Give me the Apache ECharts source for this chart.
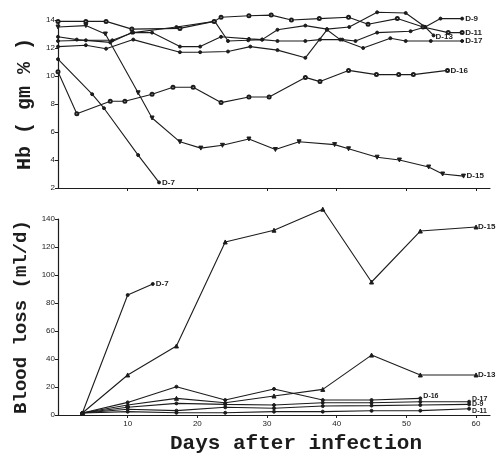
<!DOCTYPE html>
<html>
<head>
<meta charset="utf-8">
<script src="https://cdn.jsdelivr.net/npm/echarts@6/dist/echarts.min.js"></script>
<style>
html,body{margin:0;padding:0;background:#fff;}
#c{width:498px;height:457px;}
</style>
</head>
<body>
<div id="c"></div>
<script>
// ---- Haemoglobin (gm %) : [day, value]
const hbD9  = [[0,12.5],[4,12.55],[7.8,12.55],[10.8,13.1],[17,13.5],[22.5,13.9],[24.4,12.5],[27.3,12.55],[29.3,12.6],[31.5,12.5],[35.5,12.5],[37.6,12.6],[40.8,12.6],[42.7,12.5],[45.8,13.1],[50.6,13.2],[52.7,13.5],[54.9,14.1],[58,14.1]];
const hbD11 = [[0,13.9],[4,13.9],[6.9,13.9],[10.6,13.35],[17.5,13.4],[22.4,13.9],[23.4,14.2],[27.4,14.3],[30.6,14.35],[33.5,14.0],[37.5,14.1],[41.7,14.2],[44.5,13.7],[48.7,14.1],[52.4,13.5],[56,13.1],[58,13.1]];
const hbD13 = [[0,12.8],[2.7,12.6],[7.5,12.4],[10.6,13.1],[13.5,13.1],[17.5,12.1],[20.4,12.1],[23.4,12.8],[27.4,12.65],[29.3,12.6],[31.5,13.3],[35.5,13.6],[38.6,13.35],[41.8,13.5],[45.8,14.55],[49.9,14.5],[52.7,13.5],[53.9,12.9]];
const hbD17 = [[0,12.1],[4,12.2],[6.9,11.95],[10.8,12.6],[17.5,11.7],[20.4,11.7],[24.4,11.75],[27.6,12.1],[31.5,11.85],[35.5,11.3],[38.6,13.3],[40.5,12.6],[43.8,12.0],[47.7,12.7],[49.9,12.5],[53.5,12.5],[58,12.5]];
const hbD16 = [[0,10.3],[2.7,7.3],[7.5,8.2],[9.6,8.2],[13.5,8.7],[16.5,9.2],[19.4,9.2],[23.4,8.1],[27.4,8.5],[30.3,8.5],[35.5,9.9],[37.6,9.6],[41.7,10.4],[45.7,10.1],[48.9,10.1],[51,10.1],[55.9,10.4]];
const hbD15 = [[0,13.5],[4,13.6],[6.8,13.0],[11.5,8.8],[13.5,7.0],[17.5,5.3],[20.5,4.85],[23.6,5.05],[27.4,5.5],[31.2,4.75],[34.6,5.3],[39.7,5.1],[41.7,4.8],[45.8,4.2],[49,4.0],[53.2,3.5],[55.2,3.0],[58.2,2.85]];
const hbD7  = [[0,11.2],[4.9,8.7],[6.6,7.7],[11.5,4.35],[14.5,2.4]];

// ---- Blood loss (ml/d) : [day, value]
const blD7  = [[3.5,1.4],[10,85.7],[13.6,93.6]];
const blD15 = [[3.5,1.4],[10,28.6],[17,49.3],[24,123.6],[31,132],[38,147],[45,95],[52,131.4],[60,134.3]];
const blD13 = [[3.5,1.4],[10,7.1],[17,11.9],[24,8.8],[31,13.6],[38,18.3],[45,42.8],[52,28.6],[60,28.6]];
const blD16 = [[3.5,1.4],[10,9],[17,20.2],[24,10.7],[31,18.6],[38,10.7],[45,10.7],[52,11.9]];
const blD17 = [[3.5,1.4],[10,5.5],[17,8.3],[24,7.6],[31,7.1],[38,8.8],[45,8.8],[52,9.5],[59,9.5]];
const blD9  = [[3.5,1.4],[10,4.1],[17,3.1],[24,5.5],[31,4.8],[38,6.4],[45,6.7],[52,7.1],[59,7.6]];
const blD11 = [[3.5,1.4],[10,2.4],[17,1.6],[24,1.6],[31,2.4],[38,2.4],[45,3.0],[52,3.1],[59,4.5]];

const hbTicks = [2,4,6,8,10,12,14];
const blTicks = [0,20,40,60,80,100,120,140];
const dayTicks = [10,20,30,40,50,60];

const INK = '#1c1c1c';
const chart = echarts.init(document.getElementById('c'));

function mk(name, data, g, symbol, opts) {
  opts = opts || {};
  return {
    type: 'line', name: name, data: data,
    xAxisIndex: g, yAxisIndex: g,
    symbol: symbol, symbolSize: opts.size || 3, symbolRotate: opts.rot || 0,
    clip: false, animation: false,
    lineStyle: {color: INK, width: 1.1},
    itemStyle: {color: INK, borderColor: INK, borderWidth: 1},
    endLabel: {show: true, formatter: name, color: INK, fontSize: opts.fs || 8,
      fontFamily: 'Liberation Sans', fontWeight: 'bold', distance: opts.dist || 3,
      offset: opts.off || [0,0]}
  };
}

const axisLine = {show: true, lineStyle: {color: INK, width: 1.2}};
const tickLbl = {color: INK, fontSize: 8, fontFamily: 'Liberation Sans', margin: 3};

chart.setOption({
  backgroundColor: '#fff',
  animation: false,
  grid: [
    {left: 58, top: 20, width: 432, height: 168},
    {left: 58, top: 219, width: 432, height: 196}
  ],
  xAxis: [
    {gridIndex: 0, type: 'value', min: 0, max: 62, interval: 10,
     axisLine: axisLine, axisTick: {show: true, length: 3, lineStyle: {color: INK},
       customValues: dayTicks},
     axisLabel: {show: false}, splitLine: {show: false}},
    {gridIndex: 1, type: 'value', min: 0, max: 62, interval: 10,
     axisLine: axisLine, axisTick: {show: true, length: 3, lineStyle: {color: INK},
       customValues: dayTicks},
     axisLabel: Object.assign({}, tickLbl, {margin: 5, customValues: dayTicks}),
     splitLine: {show: false},
     name: 'Days after infection', nameLocation: 'middle', nameGap: 18,
     nameTextStyle: {fontFamily: 'Liberation Mono', fontWeight: 'bold', fontSize: 21,
       color: INK, padding: [0, 0, 0, 44]}}
  ],
  yAxis: [
    {gridIndex: 0, type: 'value', min: 2, max: 14, interval: 2,
     axisLine: axisLine, axisTick: {show: true, length: 3, lineStyle: {color: INK},
       customValues: hbTicks},
     axisLabel: Object.assign({}, tickLbl, {customValues: hbTicks}),
     splitLine: {show: false},
     name: 'Hb ( gm % )', nameLocation: 'middle', nameGap: 20, nameRotate: 90,
     nameTextStyle: {fontFamily: 'Liberation Mono', fontWeight: 'bold', fontSize: 20, color: INK}},
    {gridIndex: 1, type: 'value', min: 0, max: 140, interval: 20,
     axisLine: axisLine, axisTick: {show: true, length: 3, lineStyle: {color: INK},
       customValues: blTicks},
     axisLabel: Object.assign({}, tickLbl, {customValues: blTicks}),
     splitLine: {show: false},
     name: 'Blood loss (ml/d)', nameLocation: 'middle', nameGap: 20, nameRotate: 90,
     nameTextStyle: {fontFamily: 'Liberation Mono', fontWeight: 'bold', fontSize: 19, color: INK}}
  ],
  series: [
    mk('D-9', hbD9, 0, 'circle'),
    mk('D-11', hbD11, 0, 'emptyCircle'),
    mk('D-13', hbD13, 0, 'circle', {dist: 2, off: [0, 1]}),
    mk('D-17', hbD17, 0, 'circle'),
    mk('D-16', hbD16, 0, 'emptyCircle'),
    mk('D-15', hbD15, 0, 'triangle', {rot: 180, size: 4}),
    mk('D-7', hbD7, 0, 'circle'),
    mk('D-7', blD7, 1, 'circle'),
    mk('D-15', blD15, 1, 'triangle', {size: 4, dist: 2}),
    mk('D-13', blD13, 1, 'triangle', {size: 4, dist: 2}),
    mk('D-16', blD16, 1, 'circle', {fs: 7, off: [0, -2]}),
    mk('D-17', blD17, 1, 'circle', {fs: 7, off: [0, -3]}),
    mk('D-9', blD9, 1, 'circle', {fs: 7, off: [0, 0]}),
    mk('D-11', blD11, 1, 'circle', {fs: 7, off: [0, 2]})
  ]
});
</script>
</body>
</html>
